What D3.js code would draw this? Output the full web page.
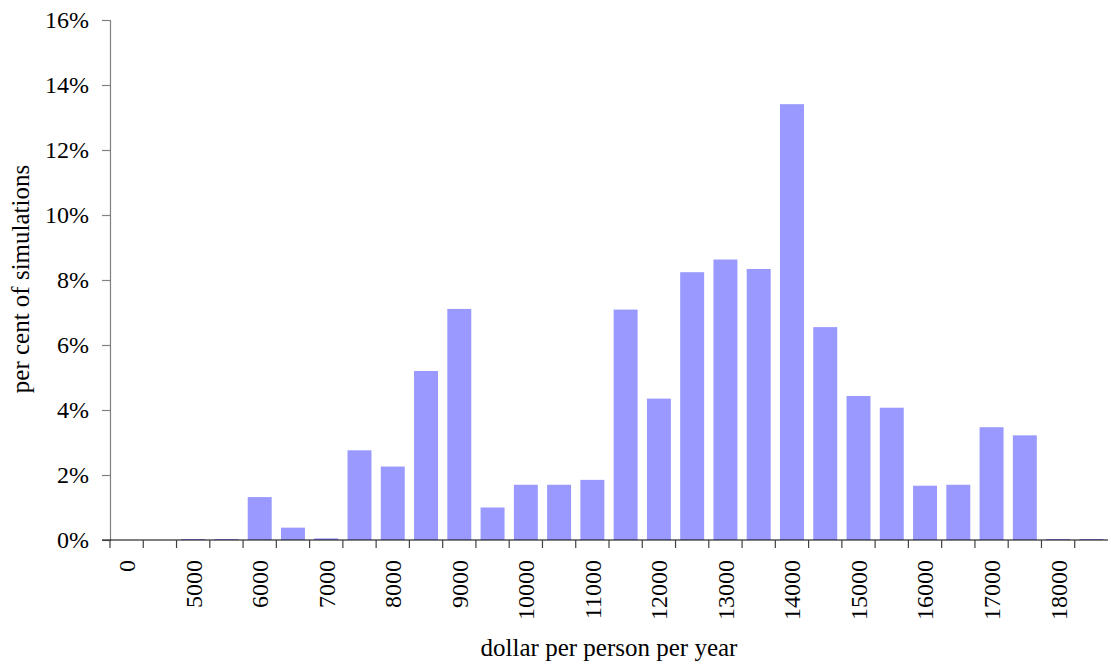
<!DOCTYPE html>
<html>
<head>
<meta charset="utf-8">
<script src="https://cdn.jsdelivr.net/npm/d3@7"></script>
<style>
  html, body { margin: 0; padding: 0; background: #fff; }
  svg { display: block; }
  text { font-family: "Liberation Serif", "Times New Roman", serif; fill: #000; }
</style>
</head>
<body>
<svg id="chart" width="1111" height="665"></svg>
<script>
// Bins (dollar per person per year), 500 wide
const categories = ["0","4500","5000","5500","6000","6500","7000","7500","8000","8500",
  "9000","9500","10000","10500","11000","11500","12000","12500","13000","13500",
  "14000","14500","15000","15500","16000","16500","17000","17500","18000","18500"];
// Shown axis labels (every second bin)
const tickLabels = ["0","","5000","","6000","","7000","","8000","",
  "9000","","10000","","11000","","12000","","13000","",
  "14000","","15000","","16000","","17000","","18000",""];
// Share of simulations (fraction)
const values = [0, 0, 0.0003, 0.0003, 0.0132, 0.0038, 0.0005, 0.0276, 0.0226, 0.052,
  0.0711, 0.0100, 0.0170, 0.0170, 0.0185, 0.0709, 0.0435, 0.0824, 0.0863, 0.0834,
  0.1341, 0.0655, 0.0443, 0.0407, 0.0167, 0.0170, 0.0347, 0.0322, 0.0003, 0.0003];
const yTicks = [0, 0.02, 0.04, 0.06, 0.08, 0.10, 0.12, 0.14, 0.16];

const svg = d3.select("#chart");
const mLeft = 110, mRight = 1108, mTop = 20, mBottom = 540;

const x = d3.scaleBand().domain(categories).range([mLeft, mRight])
  .paddingInner(0.28).paddingOuter(0.14);
const y = d3.scaleLinear().domain([0, 0.16]).range([mBottom, mTop]);

// Bars
svg.append("g").selectAll("rect").data(values).join("rect")
  .attr("x", (d, i) => x(categories[i]))
  .attr("width", x.bandwidth())
  .attr("y", d => y(d))
  .attr("height", d => Math.max(0, y(0) - y(d)))
  .attr("fill", "#9999ff");

// Y axis
const yAxis = svg.append("g").attr("transform", `translate(${mLeft},0)`)
  .call(d3.axisLeft(y).tickValues(yTicks).tickFormat(d3.format(".0%")).tickSize(8).tickPadding(13));
yAxis.select(".domain").attr("stroke", "#808080").attr("stroke-width", 1.2);
yAxis.selectAll(".tick line").attr("stroke", "#808080").attr("stroke-width", 1.2);
yAxis.selectAll(".tick text").style("font-size", "24px").style("font-family", "Liberation Serif");

// X axis: ticks at bin boundaries, labels at bin centres
const step = x.step();
const offset = (step - x.bandwidth()) / 2;
const xg = svg.append("g");
xg.append("line").attr("x1", mLeft - 8).attr("x2", mRight).attr("y1", y(0)).attr("y2", y(0))
  .attr("stroke", "#000").attr("stroke-width", 1.2);
xg.selectAll("line.tick").data(categories).join("line").attr("class", "tick")
  .attr("x1", d => x(d) - offset).attr("x2", d => x(d) - offset)
  .attr("y1", y(0)).attr("y2", y(0) + 8)
  .attr("stroke", "#404040").attr("stroke-width", 1.2);
xg.selectAll("text").data(categories).join("text")
  .attr("transform", d => `translate(${x(d) + x.bandwidth() / 2},${y(0) + 20}) rotate(-90)`)
  .attr("text-anchor", "end").attr("dy", "0.35em")
  .style("font-size", "24px")
  .text((d, i) => tickLabels[i]);

// Axis titles
svg.append("text").attr("x", (mLeft + mRight) / 2).attr("y", 656)
  .attr("text-anchor", "middle").style("font-size", "25px")
  .text("dollar per person per year");
svg.append("text").attr("transform", `translate(29,${(mTop + mBottom) / 2 - 1}) rotate(-90)`)
  .attr("text-anchor", "middle").style("font-size", "25px")
  .text("per cent of simulations");
</script>
</body>
</html>
